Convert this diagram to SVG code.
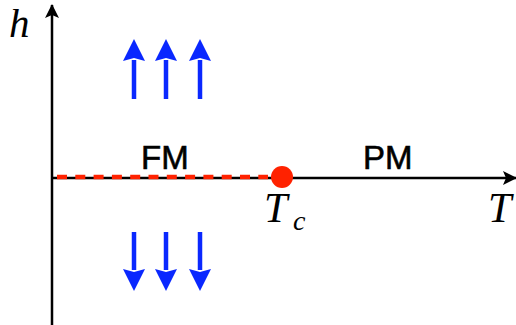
<svg xmlns="http://www.w3.org/2000/svg" width="516" height="325" viewBox="0 0 516 325">
<style>
.axis{stroke:#000;stroke-width:2.5;fill:none}
.spin{stroke:#0a28ff;stroke-width:4.5;fill:none}
.sans{font-family:"Liberation Sans","DejaVu Sans",sans-serif;font-size:33px;fill:#000;stroke:#000;stroke-width:0.6}
.math{font-family:"Liberation Serif","DejaVu Serif",serif;font-style:italic;fill:#000}
</style>
<defs>
<marker id="ax" markerUnits="userSpaceOnUse" viewBox="0 0 14 14" refX="13" refY="7" markerWidth="14" markerHeight="14" orient="auto">
<path d="M0,0 L14,7 L0,14 L3,7 Z" fill="#000"/>
</marker>
<marker id="sp" markerUnits="userSpaceOnUse" viewBox="0 0 22 22" refX="1" refY="11" markerWidth="22" markerHeight="22" orient="auto">
<path d="M0,0 L22,11 L0,22 L3,11 Z" fill="#0a28ff"/>
</marker>
</defs>
<g id="connectors">
<line class="axis" x1="52" y1="325" x2="52" y2="5" marker-end="url(#ax)"/>
<line class="axis" x1="52" y1="178" x2="516" y2="178" marker-end="url(#ax)"/>
<line x1="57" y1="177" x2="268" y2="177" stroke="#ff2200" stroke-width="4.5" stroke-dasharray="10,8.3"/>
</g>
<g id="up-spins">
<line class="spin" x1="134" y1="99" x2="134" y2="60" marker-end="url(#sp)"/>
<line class="spin" x1="166" y1="99" x2="166" y2="60" marker-end="url(#sp)"/>
<line class="spin" x1="200" y1="99" x2="200" y2="60" marker-end="url(#sp)"/>
</g>
<g id="down-spins">
<line class="spin" x1="134" y1="232" x2="134" y2="270" marker-end="url(#sp)"/>
<line class="spin" x1="166" y1="232" x2="166" y2="270" marker-end="url(#sp)"/>
<line class="spin" x1="200" y1="232" x2="200" y2="270" marker-end="url(#sp)"/>
</g>
<g id="critical-point">
<circle cx="282" cy="177" r="11" fill="#ff2200"/>
<text class="math" x="264" y="222" font-size="42">T</text>
<text class="math" x="293" y="230" font-size="28">c</text>
</g>
<g id="labels">
<text class="math" x="9" y="37" font-size="41">h</text>
<text class="math" x="488" y="222" font-size="42">T</text>
<text class="sans" x="141" y="169">FM</text>
<text class="sans" x="363" y="169">PM</text>
</g>
</svg>
